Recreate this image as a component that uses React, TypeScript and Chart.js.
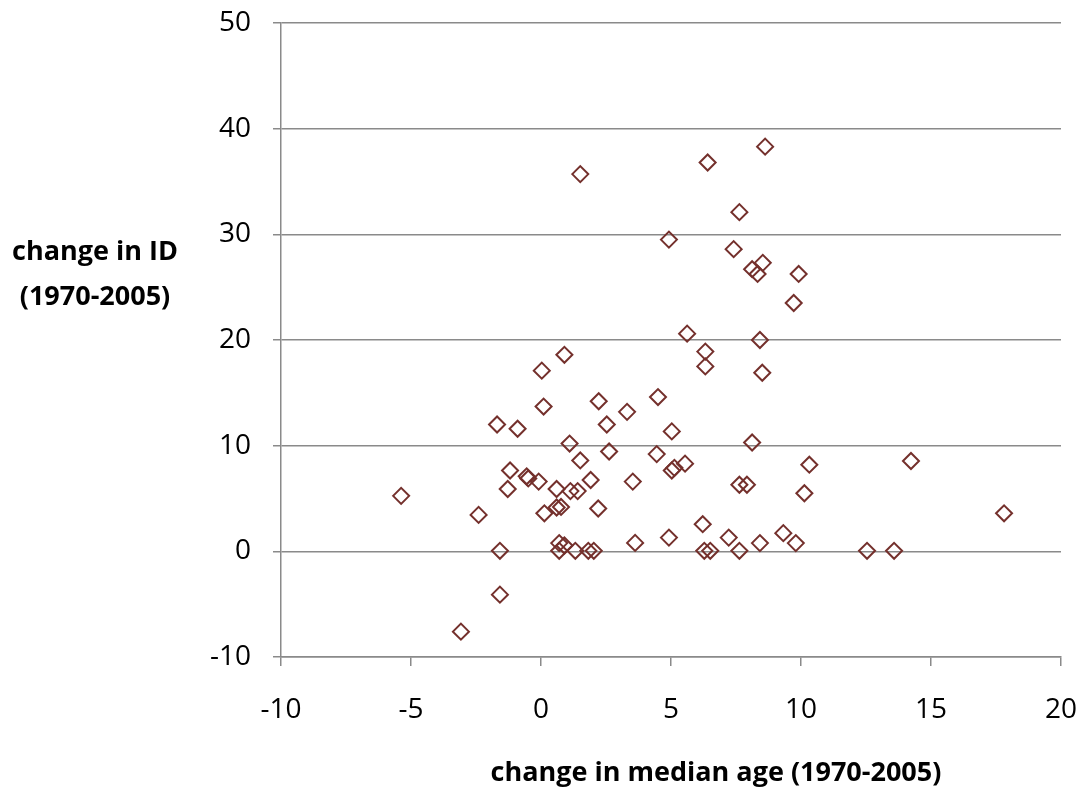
import React, { useEffect, useRef } from "react";
import { Chart, registerables } from "chart.js";

Chart.register(...registerables);

const xValues: number[] = [
  -5.38, -2.4, -1.58, -1.69, -0.9, 0.1, -1.19, -1.28, -0.55, -0.49,
  -0.09, 0.6, 1.1, 1.51, 1.13, 1.41, 1.91, 2.22, 2.53, 3.31,
  2.62, 3.53, 4.5, 4.45, 0.6, 0.77, 0.13, 2.2, 0.7, 0.9,
  0.7, 1.32, 1.82, 2.03, 3.62, -1.58, -3.08, 1.51, 0.9, 0.03,
  8.62, 6.41, 7.63, 4.92, 7.41, 8.53, 8.12, 8.33, 9.91, 9.72,
  5.62, 8.42, 6.32, 6.32, 8.51, 5.03, 8.12, 5.03, 5.13, 5.54,
  7.63, 7.92, 10.32, 10.13, 6.22, 4.92, 7.22, 6.28, 6.51, 7.63,
  8.42, 9.32, 9.8, 12.54, 13.58, 14.23, 17.81,
];
const yValues: number[] = [
  5.25, 3.45, 0.05, 12.0, 11.6, 13.7, 7.65, 5.9, 7.1, 6.9,
  6.6, 5.9, 10.2, 8.6, 5.7, 5.7, 6.75, 14.2, 12.0, 13.2,
  9.45, 6.6, 14.6, 9.2, 4.15, 4.2, 3.6, 4.05, 0.78, 0.55,
  0.05, 0.05, 0.05, 0.05, 0.8, -4.1, -7.6, 35.7, 18.6, 17.1,
  38.3, 36.8, 32.1, 29.5, 28.6, 27.3, 26.7, 26.25, 26.25, 23.5,
  20.6, 20.0, 18.9, 17.5, 16.9, 11.35, 10.3, 7.65, 7.9, 8.3,
  6.3, 6.3, 8.2, 5.5, 2.57, 1.3, 1.3, 0.05, 0.05, 0.05,
  0.78, 1.72, 0.78, 0.05, 0.05, 8.55, 3.6,
];

const xTitle = "change in median age (1970-2005)";
const yTitleLines = ["change in ID", "(1970-2005)"];
const xMin = -10, xMax = 20, xStep = 5;
const yMin = -10, yMax = 50, yStep = 10;

const FONT = "'Open Sans', 'Liberation Sans', sans-serif";

export default function App() {
  const ref = useRef<HTMLCanvasElement | null>(null);
  useEffect(() => {
    if (!ref.current) return;
    const points = xValues.map((x, i) => ({ x, y: yValues[i] }));
    const titlesPlugin = {
      id: "titles",
      afterDraw(chart: any) {
        const ctx = chart.ctx;
        ctx.save();
        ctx.fillStyle = "#000";
        ctx.font = `bold 27px ${FONT}`;
        ctx.textAlign = "center";
        ctx.textBaseline = "middle";
        ctx.fillText(yTitleLines[0], 95, 252);
        ctx.fillText(yTitleLines[1], 95, 297);
        ctx.fillText(xTitle, 716, 773);
        ctx.restore();
      },
    };
    const chart = new Chart(ref.current, {
      type: "scatter",
      data: {
        datasets: [
          {
            data: points,
            pointStyle: "rectRot",
            pointRadius: 8,
            pointHoverRadius: 8,
            pointBorderWidth: 2,
            borderColor: "#74302c",
            backgroundColor: "rgba(255,255,255,0)",
            showLine: false,
          },
        ],
      },
      options: {
        animation: false,
        responsive: false,
        maintainAspectRatio: false,
        layout: { padding: { left: 0, right: 25, top: 23, bottom: 0 } },
        plugins: { legend: { display: false }, tooltip: { enabled: false } },
        scales: {
          x: {
            type: "linear",
            min: xMin,
            max: xMax,
            afterFit(scale: any) {
              scale.height = 139;
              scale.paddingLeft = 0;
              scale.paddingRight = 0;
            },
            ticks: {
              stepSize: xStep,
              color: "#000",
              font: { family: FONT, size: 28 },
              padding: 27,
            },
            grid: {
              drawOnChartArea: false,
              color: "#8a8a8a",
              lineWidth: 1.5,
              tickLength: 9,
            },
            border: { color: "#8a8a8a", width: 1.5 },
          },
          y: {
            type: "linear",
            min: yMin,
            max: yMax,
            afterFit(scale: any) {
              scale.width = 281;
              scale.paddingTop = 0;
              scale.paddingBottom = 0;
            },
            ticks: {
              stepSize: yStep,
              color: "#000",
              font: { family: FONT, size: 28 },
              padding: 22,
            },
            grid: {
              color: "#8a8a8a",
              lineWidth: 1.5,
              tickLength: 8,
            },
            border: { color: "#8a8a8a", width: 1.5 },
          },
        },
      },
      plugins: [titlesPlugin],
    });
    return () => chart.destroy();
  }, []);
  return (
    <div style={{ position: "fixed", left: 0, top: 0, width: 1086, height: 796, background: "#fff" }}>
      <canvas ref={ref} width={1086} height={796} style={{ width: 1086, height: 796, display: "block" }} />
    </div>
  );
}
